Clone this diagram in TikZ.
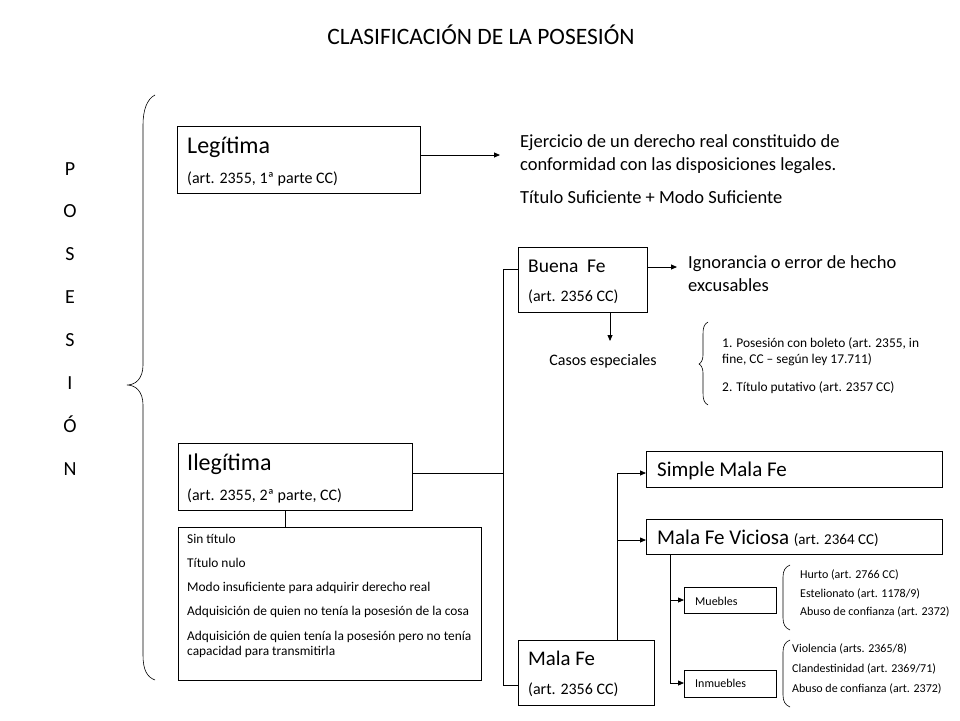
\documentclass[tikz,border=0pt]{standalone}
\usepackage{fontspec}
\setmainfont{Carlito}
\usetikzlibrary{arrows.meta,calc}
\begin{document}
\begin{tikzpicture}[x=1pt,y=-1pt,
  box/.style={draw,line width=0.8pt,anchor=north west,inner sep=0pt},
  txt/.style={anchor=base west,inner sep=0pt},
  conn/.style={line width=0.8pt},
  arr/.style={line width=0.8pt,-{Triangle[length=6pt,width=5pt]}},
  brace/.style={line width=0.6pt},
  fbig/.style={font=\fontsize{24}{28}\selectfont},
  fmid/.style={font=\fontsize{18.5}{22}\selectfont},
  fsub/.style={font=\fontsize{16}{19}\selectfont},
  fsm/.style={font=\fontsize{13.4}{16}\selectfont},
  ftiny/.style={font=\fontsize{12}{14}\selectfont}]
\useasboundingbox (0,0) rectangle (960,720);
\fill[white] (0,0) rectangle (960,720);

% title
\node[font=\fontsize{23.5}{28}\selectfont,anchor=base] (title) at (481,44) {CLASIFICACIÓN DE LA POSESIÓN};

% vertical word
\foreach \l [count=\i] in {P,O,S,E,S,I,Ó,N}
  \node[font=\fontsize{20}{24}\selectfont,anchor=base] (w\i) at (70,175+42.9*\i-42.9) {\l};

% big brace
\draw[brace] (155,95) .. controls (147,99) and (143,110) .. (143,125) -- (143,365)
  .. controls (143,378) and (136,385) .. (127,385)
  .. controls (136,385) and (143,392) .. (143,405) -- (143,655)
  .. controls (143,670) and (147,677) .. (155,680);

% Legitima
\node[box,minimum width=243pt,minimum height=67pt] (leg) at (177,126) {};
\node[txt,fbig] (legt) at (187,153) {Legítima};
\node[txt,fsub] (legs) at (187,183) {(art. 2355, 1ª parte CC)};
\coordinate (legout) at (420,155);
\coordinate (ejin) at (500,155);
\draw[arr] (legout) -- (ejin);
\node[txt,fmid] (ej1) at (520,147) {Ejercicio de un derecho real constituido de};
\node[txt,fmid] (ej2) at (520,170) {conformidad con las disposiciones legales.};
\node[txt,fmid] (ej3) at (520,203) {Título Suficiente + Modo Suficiente};

% Buena Fe
\node[box,minimum width=129pt,minimum height=65pt] (bf) at (518,247) {};
\node[txt,font=\fontsize{19.5}{23}\selectfont] (bft) at (528,272) {Buena\ \ Fe};
\node[txt,fsub] (bfs) at (528,301) {(art. 2356 CC)};
\coordinate (bfout) at (647,267);
\coordinate (igin) at (677,267);
\draw[arr] (bfout) -- (igin);
\node[txt,fmid] (ig1) at (688,268) {Ignorancia o error de hecho};
\node[txt,fmid] (ig2) at (688,291) {excusables};
\coordinate (bfdown) at (610,312);
\coordinate (casin) at (610,341);
\draw[arr] (bfdown) -- (casin);
\node[txt,fsub,anchor=base] (cas) at (603,365) {Casos especiales};
\draw[brace] (708,322) .. controls (704,324) and (703,328) .. (703,334) -- (703,355)
  .. controls (703,360) and (701,363) .. (699,364)
  .. controls (701,365) and (703,368) .. (703,373) -- (703,393)
  .. controls (703,399) and (704,403) .. (708,405);
\node[txt,fsm] (c1) at (722,347) {1. Posesión con boleto (art. 2355, in};
\node[txt,fsm] (c2) at (722,363) {fine, CC -- según ley 17.711)};
\node[txt,fsm] (c3) at (722,391) {2. Título putativo (art. 2357 CC)};

% Ilegitima
\node[box,minimum width=234pt,minimum height=67pt] (il) at (178,443) {};
\node[txt,fbig] (ilt) at (187,470) {Ilegítima};
\node[txt,fsub] (ils) at (187,500) {(art. 2355, 2ª parte, CC)};
\coordinate (ilout) at (412,473);
\coordinate (j1) at (503,473);
\coordinate (jtop) at (503,269);
\coordinate (jbot) at (503,685);
\draw[conn] (ilout) -- (j1);
\draw[conn] (bf.west |- jtop) -- (jtop) -- (jbot) -- (jbot -| bf.west);

% sub list
\node[box,minimum width=303pt,minimum height=153pt] (sub) at (178,527) {};
\draw[conn] (il.south -| 285,0) -- (sub.north -| 285,0);
\node[txt,fsm] (s1) at (187,543) {Sin título};
\node[txt,fsm] (s2) at (187,567) {Título nulo};
\node[txt,fsm] (s3) at (187,591) {Modo insuficiente para adquirir derecho real};
\node[txt,fsm] (s4) at (187,615) {Adquisición de quien no tenía la posesión de la cosa};
\node[txt,fsm] (s5) at (187,640) {Adquisición de quien tenía la posesión pero no tenía};
\node[txt,fsm] (s6) at (187,655) {capacidad para transmitirla};

% Mala Fe
\node[box,minimum width=136pt,minimum height=65pt] (mf) at (518,640) {};
\node[txt,font=\fontsize{20.8}{24}\selectfont] (mft) at (528,665) {Mala Fe};
\node[txt,fsub] (mfs) at (528,694) {(art. 2356 CC)};

\node[box,minimum width=296pt,minimum height=36pt] (smf) at (646,451) {};
\node[txt,font=\fontsize{21}{24}\selectfont] (smft) at (657,476) {Simple Mala Fe};
\node[box,minimum width=296pt,minimum height=35pt] (vmf) at (646,519) {};
\node[txt,font=\fontsize{21}{24}\selectfont] (vmft) at (657,544) {Mala Fe Viciosa {\fontsize{15}{17}\selectfont (art. 2364 CC)}};

\coordinate (mfup) at (617,640);
\coordinate (k1) at (617,473);
\coordinate (k2) at (617,540);
\draw[conn] (mfup) -- (k1);
\draw[arr] (k1) -- (smf.west |- k1);
\draw[arr] (k2) -- (vmf.west |- k2);

% Muebles / Inmuebles
\node[box,minimum width=92pt,minimum height=26pt] (mu) at (684,587) {};
\node[txt,ftiny] (mut) at (695,605) {Muebles};
\node[box,minimum width=92pt,minimum height=27pt] (in) at (684,670) {};
\node[txt,ftiny] (int) at (695,687) {Inmuebles};
\coordinate (v0) at (670,554);
\coordinate (v1) at (670,600);
\coordinate (v2) at (670,683);
\draw[conn] (v0) -- (v2);
\draw[arr] (v1) -- (mu.west |- v1);
\draw[arr] (v2) -- (in.west |- v2);

\draw[brace] (790,565) .. controls (785,567) and (783,571) .. (783,577) -- (783,618)
  .. controls (783,624) and (785,628) .. (790,630);
\node[txt,ftiny] (h1) at (800,578) {Hurto (art. 2766 CC)};
\node[txt,ftiny] (h2) at (800,597) {Estelionato (art. 1178/9)};
\node[txt,ftiny] (h3) at (800,615) {Abuso de confianza (art. 2372)};

\draw[brace] (790,640) .. controls (785,642) and (783,646) .. (783,652) -- (783,695)
  .. controls (783,701) and (785,705) .. (790,707);
\node[txt,ftiny] (i1) at (792,652) {Violencia (arts. 2365/8)};
\node[txt,ftiny] (i2) at (792,672) {Clandestinidad (art. 2369/71)};
\node[txt,ftiny] (i3) at (792,692) {Abuso de confianza (art. 2372)};
\end{tikzpicture}
\end{document}
